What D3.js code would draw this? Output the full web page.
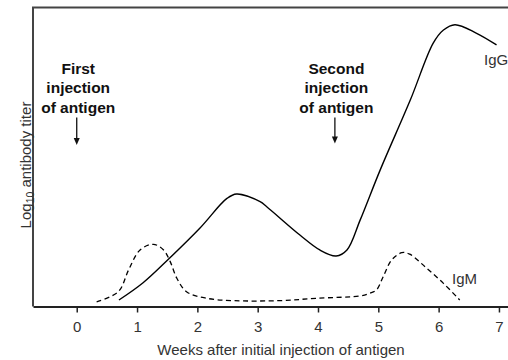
<!DOCTYPE html>
<html>
<head>
<meta charset="utf-8">
<script src="https://cdn.jsdelivr.net/npm/d3@7/dist/d3.min.js"></script>
<style>
  html, body { margin: 0; padding: 0; background: #fff; }
  svg { display: block; }
  text { font-family: "Liberation Sans", Arial, Helvetica, sans-serif; }
</style>
</head>
<body>
<svg id="chart" width="508" height="360"></svg>
<script>
// Antibody response over time (weeks after first injection vs. log10 titer, arbitrary units)
const weekTicks = [0, 1, 2, 3, 4, 5, 6, 7];

const iggWeeks  = [0.70, 1.10, 1.52, 2.04, 2.49, 2.65, 3.04, 3.15, 3.70, 4.03, 4.30, 4.48, 4.70, 5.03, 5.53, 5.91, 6.08, 6.27, 6.63, 6.96];
const iggTiter  = [0.20, 0.78, 1.57, 2.61, 3.61, 3.76, 3.50, 3.33, 2.38, 1.88, 1.68, 1.88, 2.89, 4.56, 6.91, 8.82, 9.26, 9.44, 9.15, 8.76];

const igmWeeks  = [0.33, 0.69, 0.86, 1.05, 1.27, 1.44, 1.55, 1.66, 1.82, 2.15, 2.60, 3.37, 3.98, 4.70, 4.86, 4.97, 5.08, 5.22, 5.39, 5.52, 5.80, 6.08, 6.35];
const igmTiter  = [0.14, 0.48, 1.21, 1.88, 2.07, 1.88, 1.49, 0.93, 0.48, 0.26, 0.18, 0.18, 0.26, 0.34, 0.43, 0.54, 0.98, 1.54, 1.79, 1.74, 1.27, 0.76, 0.20];

const injectionWeeks = [0, 4.28];
const injectionLabels = [
  ["First", "injection", "of antigen"],
  ["Second", "injection", "of antigen"]
];

const svg = d3.select("#chart");
const plotLeft = 33, plotRight = 508, plotTop = 7.5, plotBottom = 306.5;

const x = d3.scaleLinear().domain([-0.725, 7.15]).range([plotLeft, plotRight]);
const y = d3.scaleLinear().domain([0, 10]).range([306, 8]);

// frame: left and top edges
svg.append("path")
  .attr("d", `M${plotLeft},${plotBottom}V${plotTop}H${plotRight}`)
  .attr("fill", "none")
  .attr("stroke", "#444")
  .attr("stroke-width", 2);

// x axis
const xAxis = d3.axisBottom(x)
  .tickValues(weekTicks)
  .tickFormat(d3.format("d"))
  .tickSize(6)
  .tickSizeOuter(0)
  .tickPadding(9);

const gx = svg.append("g")
  .attr("transform", `translate(0,${plotBottom})`)
  .call(xAxis);
gx.select(".domain").attr("stroke", "#222").attr("stroke-width", 2);
gx.selectAll(".tick line").attr("stroke", "#222").attr("stroke-width", 1.5);
gx.selectAll(".tick text")
  .attr("font-size", 15)
  .attr("fill", "#333")
  .style("font-family", "'Liberation Sans', Arial, sans-serif");

// axis titles
svg.append("text")
  .attr("x", 281).attr("y", 355)
  .attr("text-anchor", "middle")
  .attr("font-size", 15)
  .attr("fill", "#333")
  .text("Weeks after initial injection of antigen");

const yTitle = svg.append("text")
  .attr("transform", "translate(30.5,165) rotate(-90)")
  .attr("text-anchor", "middle")
  .attr("font-size", 15)
  .attr("fill", "#333");
yTitle.append("tspan").text("Log");
yTitle.append("tspan").attr("font-size", 10.5).attr("dy", 3).text("10");
yTitle.append("tspan").attr("dy", -3).text(" antibody titer");

// curves
const line = d3.line()
  .x(d => x(d[0]))
  .y(d => y(d[1]))
  .curve(d3.curveCatmullRom.alpha(0.5));

svg.append("path")
  .datum(iggWeeks.map((w, i) => [w, iggTiter[i]]))
  .attr("d", line)
  .attr("fill", "none")
  .attr("stroke", "#000")
  .attr("stroke-width", 1.4);

svg.append("path")
  .datum(igmWeeks.map((w, i) => [w, igmTiter[i]]))
  .attr("d", line)
  .attr("fill", "none")
  .attr("stroke", "#000")
  .attr("stroke-width", 1.3)
  .attr("stroke-dasharray", "5,3.5");

// curve labels
svg.append("text")
  .attr("x", 484).attr("y", 65)
  .attr("font-size", 15)
  .attr("fill", "#333")
  .text("IgG");
svg.append("text")
  .attr("x", 452).attr("y", 284)
  .attr("font-size", 15)
  .attr("fill", "#333")
  .text("IgM");

// injection annotations with arrows
const arrowTips = [145, 143.5];
injectionWeeks.forEach((w, i) => {
  const cx = x(w);
  const t = svg.append("text")
    .attr("text-anchor", "middle")
    .attr("font-size", 15.5)
    .attr("font-weight", "bold")
    .attr("fill", "#111");
  injectionLabels[i].forEach((s, j) => {
    t.append("tspan")
      .attr("x", cx + 1.5)
      .attr("y", 73.5 + j * 19.5)
      .text(s);
  });
  const tip = arrowTips[i];
  svg.append("line")
    .attr("x1", cx).attr("x2", cx)
    .attr("y1", 117.5).attr("y2", tip - 5)
    .attr("stroke", "#111")
    .attr("stroke-width", 1.3);
  svg.append("path")
    .attr("d", `M${cx - 3},${tip - 7}L${cx + 3},${tip - 7}L${cx},${tip}Z`)
    .attr("fill", "#111");
});
</script>
</body>
</html>
